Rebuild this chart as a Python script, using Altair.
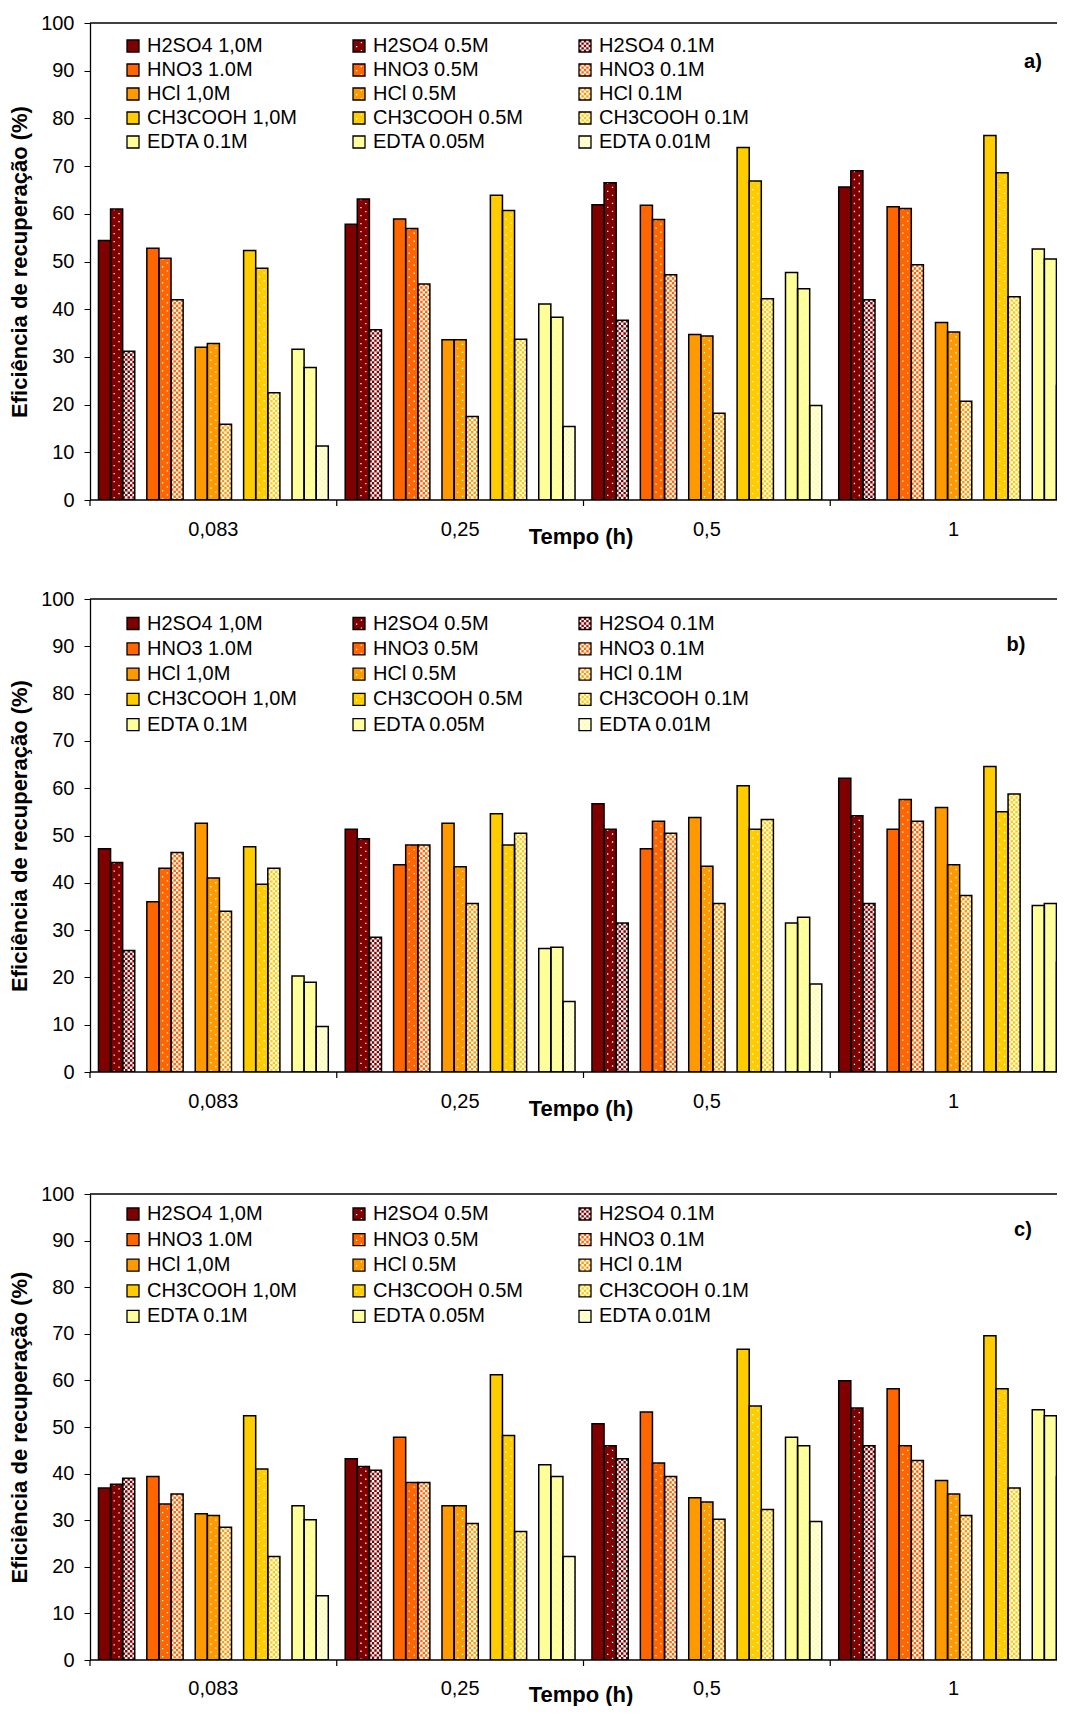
import altair as alt
import pandas as pd

# ---------------- data ----------------
TIMES = ["0,083", "0,25", "0,5", "1"]
SERIES = ["H2SO4 1,0M", "H2SO4 0.5M", "H2SO4 0.1M",
          "HNO3 1.0M", "HNO3 0.5M", "HNO3 0.1M",
          "HCl 1,0M", "HCl 0.5M", "HCl 0.1M",
          "CH3COOH 1,0M", "CH3COOH 0.5M", "CH3COOH 0.1M",
          "EDTA 0.1M", "EDTA 0.05M", "EDTA 0.01M"]
COLORS = ["#800000", "#FF6600", "#FF9900", "#FFCC00", "#FFFF99"]

# panel a) values, one list per time, in SERIES order
A_T1 = [54.4, 61.0, 31.2, 52.8, 50.7, 42.0, 32.0, 32.8, 15.9, 52.3, 48.6, 22.5, 31.6, 27.8, 11.3]
A_T2 = [57.8, 63.1, 35.7, 58.9, 56.9, 45.3, 33.6, 33.6, 17.5, 63.9, 60.7, 33.7, 41.1, 38.3, 15.4]
A_T3 = [61.9, 66.5, 37.7, 61.8, 58.8, 47.2, 34.7, 34.4, 18.2, 73.9, 66.9, 42.2, 47.7, 44.3, 19.8]
A_T4 = [65.6, 69.0, 42.0, 61.5, 61.1, 49.3, 37.2, 35.2, 20.7, 76.4, 68.6, 42.6, 52.6, 50.5, 24.0]

# panel b)
B_T1 = [47.2, 44.3, 25.7, 36.0, 43.1, 46.4, 52.6, 41.0, 34.0, 47.6, 39.7, 43.1, 20.3, 19.0, 9.6]
B_T2 = [51.3, 49.3, 28.5, 43.8, 48.0, 48.0, 52.6, 43.4, 35.6, 54.6, 48.0, 50.5, 26.1, 26.4, 14.9]
B_T3 = [56.7, 51.3, 31.5, 47.2, 53.0, 50.5, 53.8, 43.5, 35.6, 60.5, 51.3, 53.4, 31.5, 32.7, 18.6]
B_T4 = [62.1, 54.2, 35.6, 51.3, 57.6, 53.0, 55.9, 43.8, 37.3, 64.6, 55.0, 58.8, 35.2, 35.6, 23.2]

# panel c)
C_T1 = [36.9, 37.7, 39.0, 39.4, 33.5, 35.6, 31.4, 31.0, 28.5, 52.4, 41.0, 22.2, 33.1, 30.1, 13.8]
C_T2 = [43.2, 41.5, 40.7, 47.8, 38.1, 38.1, 33.1, 33.1, 29.3, 61.2, 48.2, 27.6, 41.9, 39.4, 22.2]
C_T3 = [50.7, 46.0, 43.2, 53.2, 42.3, 39.4, 34.8, 33.9, 30.2, 66.7, 54.5, 32.3, 47.8, 46.0, 29.7]
C_T4 = [59.9, 54.1, 46.0, 58.2, 46.0, 42.8, 38.5, 35.6, 31.0, 69.6, 58.2, 36.9, 53.7, 52.4, 39.4]

Y_TICKS = list(range(0, 101, 10))
X_TITLE = "Tempo (h)"
Y_TITLE = "Eficiência de recuperação (%)"

# ---------------- layout helpers ----------------
FONT = "Liberation Sans"
W = 967          # visible plot width (the last group is cut, as in the original)
RANGE_W = 987    # full width of the category axis
NSUB = 5

SLOTS = []
for r in range(5):
    SLOTS += SERIES[3 * r:3 * r + 3]
    if r < 4:
        SLOTS.append(f"_gap{r}")
SUBSLOTS = (["_pa", "_pb", "_pc"] + [f"{s}|{k}" for s in SLOTS for k in range(NSUB)]
            + ["_qa", "_qb", "_qc"])
CELL = RANGE_W / 4 / (len(SUBSLOTS) + 1.0)


def long_df(rows):
    recs = []
    for t, vals in zip(TIMES, rows):
        for i, v in enumerate(vals):
            recs.append({"time": t, "series": SERIES[i], "value": v,
                         "conc": i % 3, "color": COLORS[i // 3]})
    df = pd.DataFrame(recs)
    df["base"] = df["color"].where(df["conc"] < 2, "#FFFFFF")
    return df


def sub_df(df):
    out = df.merge(pd.DataFrame({"k": list(range(NSUB))}), how="cross")
    out["sub"] = out["series"] + "|" + out["k"].astype(str)
    return out


def legend_df(y0, dy):
    recs = []
    for i, s in enumerate(SERIES):
        row, col = i // 3, i % 3
        x0 = 37 + 226 * col
        yc = y0 + dy * row
        recs.append({"label": s, "conc": col, "color": COLORS[i // 3],
                     "base": COLORS[i // 3] if col < 2 else "#FFFFFF",
                     "x0": x0, "x1": x0 + 12, "y0": yc - 6, "y1": yc + 6,
                     "tx": x0 + 20, "ty": yc})
    return pd.DataFrame(recs)


def X(**kw):
    return alt.X("time:N", sort=TIMES,
                 scale=alt.Scale(domain=TIMES, range=[0, RANGE_W], paddingInner=0, paddingOuter=0),
                 axis=None, **kw)


def XO():
    return alt.XOffset("series:N", scale=alt.Scale(domain=SLOTS, paddingInner=0, paddingOuter=0.7))


def XOS():
    return alt.XOffset("sub:N", scale=alt.Scale(domain=SUBSLOTS, paddingInner=0, paddingOuter=0.5))


def Y():
    return alt.Y("value:Q", scale=alt.Scale(domain=[0, 100], nice=False),
                 axis=alt.Axis(values=Y_TICKS, title=Y_TITLE,
                               tickSize=6, labelPadding=10, titlePadding=9,
                               domainWidth=1.3))


def make_panel(rows, H, ly0, ldy, tag, tag_x, tag_y, lab_y=30, title_y=37):
    df = long_df(rows)
    sdf = sub_df(df)
    base = alt.Chart(df)
    sbase = alt.Chart(sdf)
    cell = CELL

    layers = []
    layers.append(base.mark_bar(clip=True, strokeWidth=0).encode(
        x=X(), xOffset=XO(), y=Y(), fill=alt.Fill("base:N", scale=None)))
    # dotted texture (0.5 M)
    for k, doff in [(1, 0), (3, 4)]:
        layers.append(sbase.transform_filter(f"datum.conc == 1 && datum.k == {k}").mark_rule(
            clip=True, color="white", strokeWidth=1.3, strokeDash=[1.3, 6.7],
            strokeDashOffset=doff).encode(x=X(), xOffset=XOS(), y=Y(), y2=alt.datum(0)))
    # checker texture (0.1 M)
    for parity, doff in [(0, 0), (1, cell)]:
        layers.append(sbase.transform_filter(f"datum.conc == 2 && datum.k % 2 == {parity}").mark_rule(
            clip=True, strokeWidth=cell, strokeDash=[cell, cell],
            strokeDashOffset=doff).encode(x=X(), xOffset=XOS(), y=Y(), y2=alt.datum(0),
                                          color=alt.Color("color:N", scale=None)))
    layers.append(base.mark_bar(clip=True, fillOpacity=0, stroke="black", strokeWidth=1.5).encode(
        x=X(), xOffset=XO(), y=Y()))

    one = alt.Chart(pd.DataFrame({"t": [tag]}))
    layers.append(one.mark_rule(color="black", strokeWidth=1.5).encode(
        x=alt.value(0), x2=alt.value(W), y=alt.value(0)))
    layers.append(one.mark_rule(color="black", strokeWidth=1.3).encode(
        x=alt.value(0), x2=alt.value(W), y=alt.value(H)))
    # category axis: ticks at band boundaries, labels at band centres, title
    tdf = alt.Chart(pd.DataFrame({"time": TIMES}))
    layers.append(tdf.mark_rule(color="black", strokeWidth=1.2).encode(
        x=X(bandPosition=0), y=alt.value(H), y2=alt.value(H + 6)))
    layers.append(tdf.mark_text(font=FONT, fontSize=20, color="black", baseline="middle").encode(
        x=X(), y=alt.value(H + lab_y), text="time:N"))
    layers.append(one.mark_text(font=FONT, fontSize=22, fontWeight="bold", color="black",
                                baseline="middle").encode(
        x=alt.value(491), y=alt.value(H + title_y), text=alt.value(X_TITLE)))

    # legend
    ldf = legend_df(ly0, ldy)
    lsub = ldf.merge(pd.DataFrame({"k": list(range(NSUB))}), how="cross")
    lsub["rx"] = lsub["x0"] + (lsub["k"] + 0.5) * 12 / NSUB
    lb = alt.Chart(ldf)
    ls = alt.Chart(lsub)
    px = lambda f: alt.X(f"{f}:Q", scale=None, axis=None)
    py = lambda f: alt.Y(f"{f}:Q", scale=None, axis=None)
    layers.append(lb.mark_rect().encode(x=px("x0"), x2="x1:Q", y=py("y0"), y2="y1:Q",
                                        fill=alt.Fill("base:N", scale=None)))
    for k, doff in [(1, 0), (3, 4)]:
        layers.append(ls.transform_filter(f"datum.conc == 1 && datum.k == {k}").mark_rule(
            color="white", strokeWidth=1.3, strokeDash=[1.3, 6.7], strokeDashOffset=doff + 2).encode(
            x=px("rx"), y=py("y0"), y2="y1:Q"))
    for parity, doff in [(0, 0), (1, 2.4)]:
        layers.append(ls.transform_filter(f"datum.conc == 2 && datum.k % 2 == {parity}").mark_rule(
            strokeWidth=2.4, strokeDash=[2.4, 2.4], strokeDashOffset=doff).encode(
            x=px("rx"), y=py("y0"), y2="y1:Q", color=alt.Color("color:N", scale=None)))
    layers.append(lb.mark_rect(fillOpacity=0, stroke="black", strokeWidth=1.3).encode(
        x=px("x0"), x2="x1:Q", y=py("y0"), y2="y1:Q"))
    layers.append(lb.mark_text(align="left", baseline="middle", font=FONT, fontSize=20,
                               color="black").encode(x=px("tx"), y=py("ty"), text="label:N"))

    layers.append(one.mark_text(font=FONT, fontSize=20, fontWeight="bold", color="black",
                                baseline="middle").encode(
        x=alt.value(tag_x), y=alt.value(tag_y), text="t:N"))

    return alt.layer(*layers).properties(width=W, height=H).resolve_scale(xOffset="independent")


pa = make_panel([A_T1, A_T2, A_T3, A_T4], 477, 23, 24, "a)", 943, 39)
pb = make_panel([B_T1, B_T2, B_T3, B_T4], 473, 24.5, 25.3, "b)", 926, 46)
pc = make_panel([C_T1, C_T2, C_T3, C_T4], 466, 20, 25.6, "c)", 933, 36, lab_y=29, title_y=35)

chart = alt.vconcat(alt.vconcat(pa, pb, spacing=41), pc, spacing=64).properties(
    padding={"left": 0, "top": 5, "right": 0, "bottom": 0}
).configure(font=FONT).configure_axis(
    labelFont=FONT, titleFont=FONT, labelFontSize=20, titleFontSize=22,
    titleFontWeight="bold", labelColor="black", titleColor="black",
    tickColor="black", domainColor="black", grid=False
).configure_view(stroke=None)

chart.save("out.html", embed_options={"renderer": "svg", "actions": False})
